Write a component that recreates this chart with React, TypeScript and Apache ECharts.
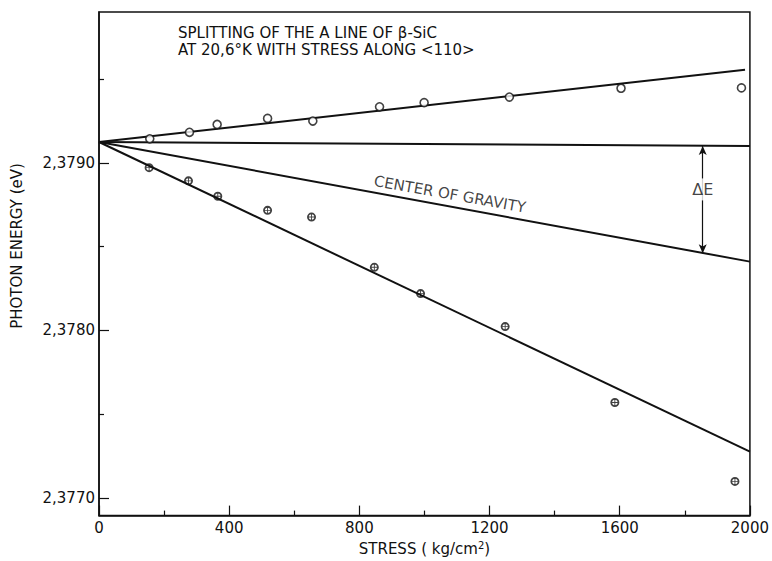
import React, { useEffect, useRef } from "react";
import * as echarts from "echarts";

// Measured points (stress in kg/cm², photon energy in eV)
const upperStress = [156, 278, 363, 518, 657, 862, 999, 1261, 1604, 1974];
const upperEnergy = [2.379143, 2.379182, 2.379229, 2.379265, 2.379249, 2.379334, 2.379359, 2.379392, 2.379445, 2.379447];
const lowerStress = [154, 275, 365, 518, 653, 846, 988, 1248, 1585, 1954];
const lowerEnergy = [2.378971, 2.378892, 2.3788, 2.378716, 2.378676, 2.378376, 2.378219, 2.378022, 2.377569, 2.377098];

// Fitted lines
const upperFitStress = [0, 1985];
const upperFitEnergy = [2.379124, 2.379555];
const zeroFitStress = [0, 2000];
const zeroFitEnergy = [2.379124, 2.3791];
const cogFitStress = [0, 2000];
const cogFitEnergy = [2.379124, 2.37841];
const lowerFitStress = [0, 2000];
const lowerFitEnergy = [2.379124, 2.377276];

// Axis ticks
const xTicks = [0, 400, 800, 1200, 1600, 2000];
const yMajorTicks = [2.377, 2.378, 2.379];
const yMinorTicks = [2.3775, 2.3785, 2.3795];

// Annotations
const deltaEStress = 1855;
const deltaETop = 2.3791;
const deltaEBottom = 2.37846;
const deltaELabelEnergy = 2.378841;
const cogLabelStress = 1078;
const cogLabelEnergy = 2.378812;

const FONT = "DejaVu Sans";

const crossCircle =
  "path://M10 0 A10 10 0 1 1 10 20 A10 10 0 1 1 10 0 Z M10 4 A6 6 0 1 0 10 16 A6 6 0 1 0 10 4 Z M9 4 L11 4 L11 16 L9 16 Z M4 9 L16 9 L16 11 L4 11 Z";

const pairs = (xs: number[], ys: number[]) => xs.map((x, i) => [x, ys[i]]);

export default function App() {
  const ref = useRef<HTMLDivElement>(null);
  useEffect(() => {
    if (!ref.current) return;
    const chart = echarts.init(ref.current, null, { renderer: "svg" });
    const lineSeries = (xs: number[], ys: number[]) => ({
      type: "line",
      data: pairs(xs, ys),
      showSymbol: false,
      symbol: "none",
      lineStyle: { color: "#111", width: 2 },
      silent: true,
    });
    chart.setOption({
      animation: false,
      backgroundColor: "#fff",
      title: {
        text: "SPLITTING OF THE A LINE OF β-SiC\nAT 20,6°K WITH STRESS ALONG <110>",
        left: 178,
        top: 24,
        padding: 0,
        textStyle: {
          fontFamily: FONT,
          fontSize: 15,
          fontWeight: "normal",
          color: "#111",
          lineHeight: 17,
        },
      },
      grid: {
        left: 99,
        right: 18,
        top: 12,
        bottom: 38,
        show: true,
        borderColor: "#111",
        borderWidth: 1.5,
        backgroundColor: "transparent",
      },
      xAxis: {
        type: "value",
        min: 0,
        max: 2000,
        interval: 400,
        name: "{a|STRESS ( kg/cm}{s|2}{a|)}",
        nameLocation: "middle",
        nameGap: 24,
        nameTextStyle: {
          rich: {
            a: { fontFamily: FONT, fontSize: 15, color: "#111" },
            s: { fontFamily: FONT, fontSize: 10, color: "#111", verticalAlign: "top", padding: [0, 0, 6, 0] },
          },
        },
        axisLine: { show: true, lineStyle: { color: "#111", width: 1.5 } },
        axisTick: { show: true, inside: true, length: 10, lineStyle: { color: "#111", width: 1.2 } },
        minorTick: { show: true, splitNumber: 2, length: 5, lineStyle: { color: "#111", width: 1.2 } },
        splitLine: { show: false },
        axisLabel: {
          margin: 5,
          fontFamily: FONT,
          fontSize: 15,
          color: "#111",
          customValues: xTicks,
          formatter: (v: number) => String(v),
        },
      },
      yAxis: [
        {
          type: "value",
          min: 2.376894,
          max: 2.3799,
          position: "left",
          axisLine: { show: true, lineStyle: { color: "#111", width: 1.5 } },
          axisTick: { show: true, inside: true, length: 10, customValues: yMajorTicks, lineStyle: { color: "#111", width: 1.2 } },
          splitLine: { show: false },
          axisLabel: {
            margin: 4,
            fontFamily: FONT,
            fontSize: 15,
            color: "#111",
            customValues: yMajorTicks,
            formatter: (v: number) => v.toFixed(4).replace(".", ","),
          },
        },
        {
          type: "value",
          min: 2.376894,
          max: 2.3799,
          position: "left",
          axisLine: { show: false },
          axisTick: { show: true, inside: true, length: 5, customValues: yMinorTicks, lineStyle: { color: "#111", width: 1.2 } },
          splitLine: { show: false },
          axisLabel: { show: false },
        },
      ],
      graphic: [
        {
          type: "text",
          x: 17,
          y: 246,
          rotation: Math.PI / 2,
          style: {
            text: "PHOTON ENERGY (eV)",
            fontFamily: FONT,
            fontSize: 15,
            fill: "#111",
            align: "center",
            verticalAlign: "middle",
          },
        },
      ],
      series: [
        lineSeries(upperFitStress, upperFitEnergy),
        {
          ...lineSeries(zeroFitStress, zeroFitEnergy),
          markLine: {
            silent: true,
            animation: false,
            symbol: ["arrow", "arrow"],
            symbolSize: [6, 9],
            lineStyle: { color: "#111", width: 1.2, type: "solid" },
            label: { show: false },
            data: [
              [
                { coord: [deltaEStress, deltaETop] },
                { coord: [deltaEStress, deltaEBottom] },
              ],
            ],
          },
        },
        lineSeries(cogFitStress, cogFitEnergy),
        lineSeries(lowerFitStress, lowerFitEnergy),
        {
          type: "scatter",
          data: pairs(upperStress, upperEnergy),
          symbol: "circle",
          symbolSize: 8,
          itemStyle: { color: "#fff", borderColor: "#111", borderWidth: 1.6 },
          z: 5,
        },
        {
          type: "scatter",
          data: pairs(lowerStress, lowerEnergy),
          symbol: crossCircle,
          symbolSize: 9,
          itemStyle: { color: "#111" },
          z: 5,
        },
        {
          type: "scatter",
          data: [[deltaEStress, deltaELabelEnergy]],
          symbolSize: 0,
          silent: true,
          label: {
            show: true,
            position: "inside",
            formatter: "ΔE",
            fontFamily: FONT,
            fontSize: 16,
            color: "#111",
            backgroundColor: "#fff",
            padding: [3, 1],
          },
          z: 6,
        },
        {
          type: "scatter",
          data: [[cogLabelStress, cogLabelEnergy]],
          symbolSize: 0,
          silent: true,
          label: {
            show: true,
            position: "inside",
            formatter: "CENTER OF GRAVITY",
            rotate: -10,
            fontFamily: FONT,
            fontSize: 15,
            color: "#111",
          },
          z: 6,
        },
      ],
    });
    return () => chart.dispose();
  }, []);
  return (
    <div
      ref={ref}
      style={{ position: "absolute", left: 0, top: 0, width: 772, height: 561 }}
    />
  );
}
